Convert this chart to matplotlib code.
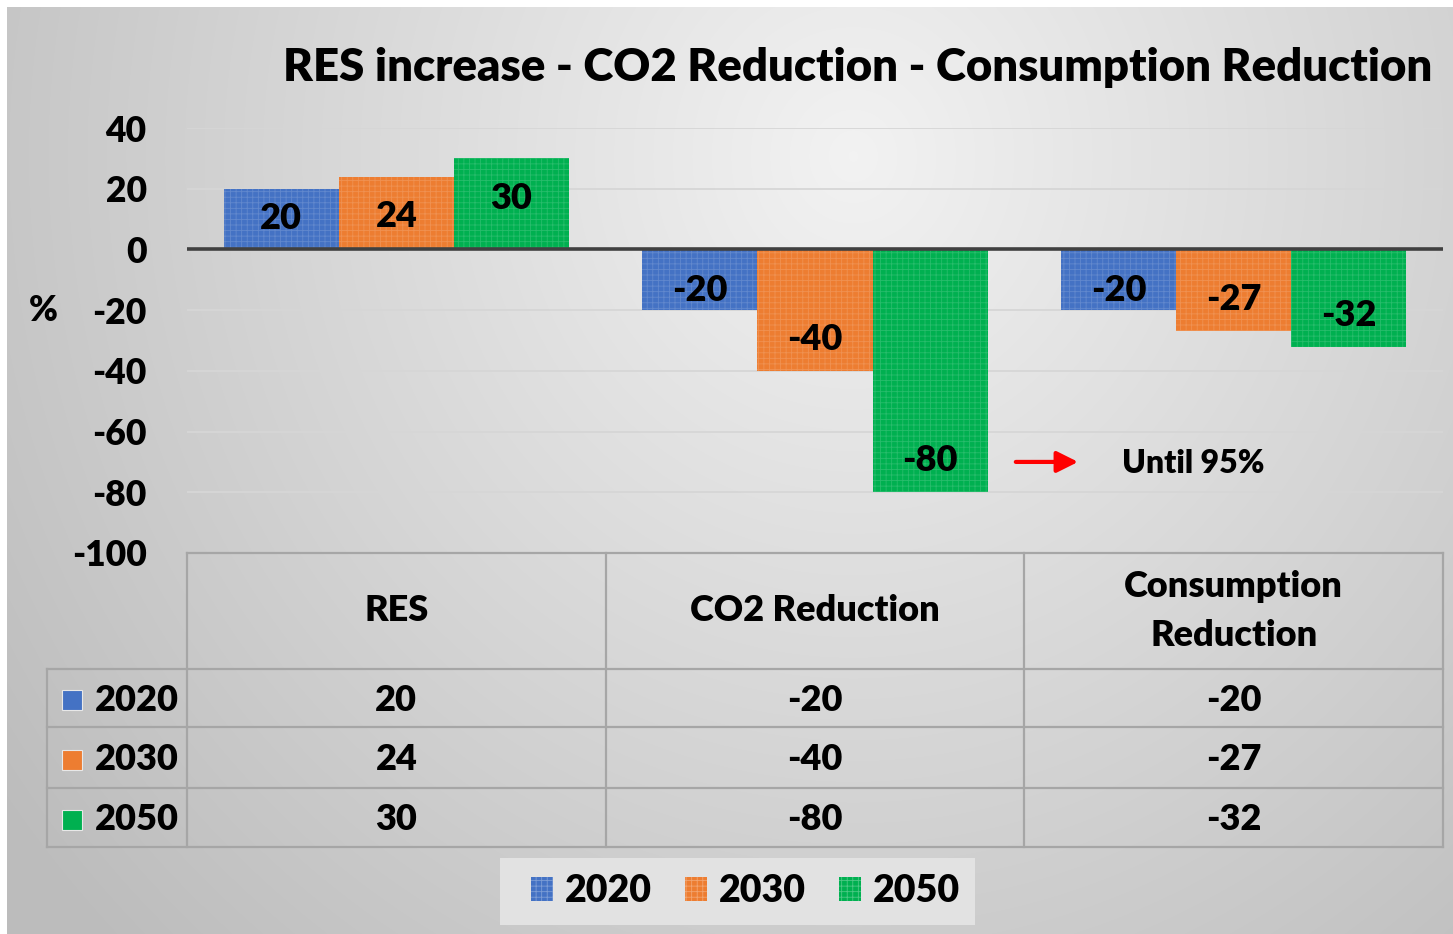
import numpy as np
import matplotlib
matplotlib.use('Agg')
import matplotlib.pyplot as plt
from matplotlib.patches import Patch, Rectangle
from matplotlib.transforms import blended_transform_factory

categories = ['RES', 'CO2 Reduction', 'Consumption\nReduction']
years = ['2020', '2030', '2050']
v2020 = [20, -20, -20]
v2030 = [24, -40, -27]
v2050 = [30, -80, -32]
series = [v2020, v2030, v2050]
colors = ['#4472C4', '#ED7D31', '#00B050']
yticks = [40, 20, 0, -20, -40, -60, -80, -100]
note = 'Until 95%'

FW = 'heavy'
plt.rcParams['font.family'] = ['Lato', 'DejaVu Sans']
plt.rcParams['font.weight'] = FW
plt.rcParams['hatch.linewidth'] = 0.6

W, H = 1453, 934
fig = plt.figure(figsize=(W / 100, H / 100), dpi=100)
fig.patch.set_facecolor('white')

# background gradient (radial, light near top centre)
bg = fig.add_axes([7 / W, 0, 1 - 7 / W, 1 - 7 / H], zorder=-10)
yy, xx = np.mgrid[0:H, 0:W]
r = np.sqrt(((xx - 850) / 800.0) ** 2 + ((yy - 150) / 850.0) ** 2)
g = np.clip(0.95 - 0.16 * r, 0.74, 0.95)
bg.imshow(np.dstack([g, g, g]), aspect='auto', extent=[0, 1, 0, 1], origin='upper')
bg.set_axis_off()

ax = fig.add_axes([187 / W, 1 - 553 / H, 1256 / W, 425 / H])
ax.patch.set_alpha(0)
x = np.arange(len(categories))
bw = 0.275
for i, (vals, c) in enumerate(zip(series, colors)):
    xs = x + (i - 1) * bw
    ax.bar(xs, vals, bw, color=c, edgecolor=(1, 1, 1, 0.16), linewidth=0, hatch='+++', zorder=3)
    for xi, v in zip(xs, vals):
        # "inside end" labels, pulled toward the middle on short bars
        if v > 0:
            ly = v - min(12.5, v - 11)
        else:
            ly = v + min(11.2, abs(v) - 12.7)
        ax.text(xi, ly - 0.8, str(v), ha='center', va='center',
                fontsize=26, fontweight=FW, zorder=4)

ax.set_xlim(-0.5, 2.5)
ax.set_ylim(-100, 40)
ax.set_yticks(yticks)
ax.set_yticklabels([str(t) for t in yticks], fontsize=25.5, fontweight=FW)
ax.tick_params(axis='y', length=0, pad=29)
ax.set_xticks([])
ax.yaxis.grid(True, color='#d6d6d6', lw=1.3, zorder=0)
for s in ax.spines.values():
    s.set_visible(False)
ax.axhline(0, color='#404040', lw=2.6, zorder=5)

fig.text(43 / W, 1 - 310 / H, '%', ha='center', va='center', fontsize=25, fontweight=FW)
fig.text(858 / W, 1 - 67 / H, 'RES increase - CO2 Reduction - Consumption Reduction',
         ha='center', va='center', fontsize=32.8, fontweight=FW)

# arrow note
ax.annotate('', xy=(1.635, -70), xytext=(1.473, -70),
            arrowprops=dict(arrowstyle='-|>', color='red', lw=3, mutation_scale=32))
ax.text(1.733, -70.5, note, ha='left', va='center', fontsize=23, fontweight=FW)

# data table
lc = '#a6a6a6'
tb = ax.transAxes
row_edges = [0, -0.2729, -0.4094, -0.5529, -0.6918]
left = -0.1115
ax.plot([0, 1], [0, 0], color=lc, lw=1.6, transform=tb, clip_on=False, zorder=6)
for yv in row_edges[1:]:
    ax.plot([left, 1], [yv, yv], color=lc, lw=1.6, transform=tb, clip_on=False)
for xv in [0, 1 / 3, 2 / 3, 1]:
    ax.plot([xv, xv], [0, row_edges[-1]], color=lc, lw=1.6, transform=tb, clip_on=False)
ax.plot([left, left], [row_edges[1], row_edges[-1]], color=lc, lw=1.6, transform=tb, clip_on=False)

bt = blended_transform_factory(ax.transData, ax.transAxes)
hy = (row_edges[0] + row_edges[1]) / 2
for xi, cat in zip(x, categories):
    ax.text(xi, hy, cat, transform=bt, ha='center', va='center', fontsize=26,
            fontweight=FW, linespacing=1.6, clip_on=False)
for k, (yr, vals, c) in enumerate(zip(years, series, colors)):
    ry = (row_edges[k + 1] + row_edges[k + 2]) / 2 - 0.005
    ax.plot([-0.0912], [ry], marker='s', ms=15, color=c, mec='#e8e8e8', mew=0.8,
            transform=tb, clip_on=False)
    ax.text(-0.0732, ry, yr, transform=tb, ha='left', va='center', fontsize=26,
            fontweight=FW, clip_on=False)
    for xi, v in zip(x, vals):
        ax.text(xi, ry, str(v), transform=bt, ha='center', va='center', fontsize=26,
                fontweight=FW, clip_on=False)

# legend box + entries
fig.patches.append(Rectangle((500 / W, 1 - 925 / H), 475 / W, 67 / H, transform=fig.transFigure,
                             facecolor='#e2e2e2', edgecolor='none', zorder=1))
handles = [Patch(facecolor=c, edgecolor=(1, 1, 1, 0.3), hatch='+++', lw=0) for c in colors]
leg = fig.legend(handles, years, loc='center', bbox_to_anchor=(745.5 / W, 1 - 891 / H),
                 ncol=3, frameon=False, fontsize=27, handlelength=0.59, handleheight=0.59,
                 handletextpad=0.32, columnspacing=0.88, borderpad=0.2)
for t in leg.get_texts():
    t.set_fontweight(FW)

fig.savefig('out.png', dpi=100)
